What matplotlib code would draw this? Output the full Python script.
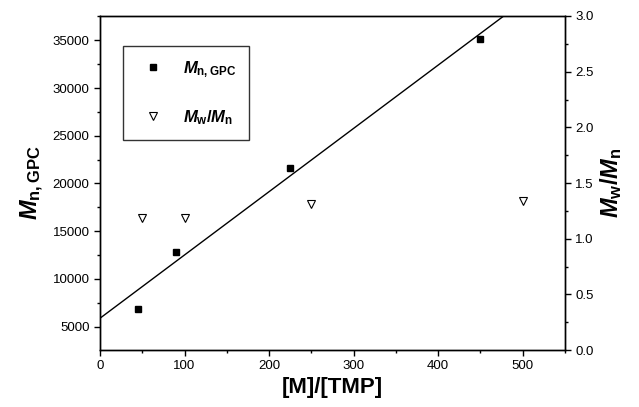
import numpy as np
import matplotlib
matplotlib.use('Agg')
import matplotlib.pyplot as plt
from matplotlib.ticker import MultipleLocator

plt.rcParams['font.family'] = ['Liberation Sans', 'DejaVu Sans']
plt.rcParams['mathtext.fontset'] = 'custom'
plt.rcParams['mathtext.it'] = 'Liberation Sans:italic:bold'
plt.rcParams['mathtext.rm'] = 'Liberation Sans:bold'
plt.rcParams['mathtext.bf'] = 'Liberation Sans:bold'

# Mn,GPC vs [M]/[TMP]
ratio_mn = [45, 90, 225, 450]
mn_gpc = [6900, 12800, 21600, 35100]

# Mw/Mn vs [M]/[TMP]
ratio_pdi = [50, 100, 250, 500]
pdi = [1.19, 1.19, 1.31, 1.34]

# straight line through the Mn data
fit_intercept = 5880
fit_slope = 66.3

fig = plt.figure(figsize=(6.39, 4.07), dpi=100)
ax = fig.add_axes([0.1565, 0.140, 0.7275, 0.8207])
ax2 = ax.twinx()

xl = np.array([0, 550])
ax.plot(xl, fit_intercept + fit_slope * xl, color='black', lw=1.0)
h1, = ax.plot(ratio_mn, mn_gpc, 's', color='black', ms=4.5, ls='none')
h2, = ax2.plot(ratio_pdi, pdi, 'v', mfc='white', mec='black', mew=0.8, ms=5.5, ls='none')

ax.set_xlim(0, 550)
ax.set_ylim(2550, 37550)
ax2.set_ylim(0, 3.0)

ax.xaxis.set_major_locator(MultipleLocator(100))
ax.xaxis.set_minor_locator(MultipleLocator(50))
ax.yaxis.set_major_locator(MultipleLocator(5000))
ax.yaxis.set_minor_locator(MultipleLocator(2500))
ax2.yaxis.set_major_locator(MultipleLocator(0.5))
ax2.yaxis.set_minor_locator(MultipleLocator(0.25))
ax2.yaxis.set_major_formatter(matplotlib.ticker.FormatStrFormatter('%.1f'))

for a in (ax, ax2):
    a.tick_params(which='major', direction='out', length=4, width=1, labelsize=9.5)
    a.tick_params(which='minor', direction='out', length=2.5, width=1)
    for s in a.spines.values():
        s.set_linewidth(1.0)
ax.tick_params(top=False, right=False)
ax.tick_params(which='minor', top=False, right=False)

ax.set_xlabel('[M]/[TMP]', fontsize=16, fontweight='bold', labelpad=3)
ax.set_ylabel(r'$M_{\mathrm{n,GPC}}$', fontsize=17, labelpad=5)
ax2.set_ylabel(r'$M_{\mathrm{w}}/M_{\mathrm{n}}$', fontsize=17, labelpad=3)

leg = ax.legend([h1, h2], [r'$M_{\mathrm{n,GPC}}$', r'$M_{\mathrm{w}}/M_{\mathrm{n}}$'],
                loc='upper left', bbox_to_anchor=(0.049, 0.91), borderaxespad=0,
                fontsize=12, frameon=True, fancybox=False, edgecolor='black',
                handlelength=2.0, handletextpad=0.8, borderpad=0.8, labelspacing=1.7)
leg.get_frame().set_linewidth(1.0)
leg.set_zorder(10)

fig.savefig('out.png', dpi=100)
